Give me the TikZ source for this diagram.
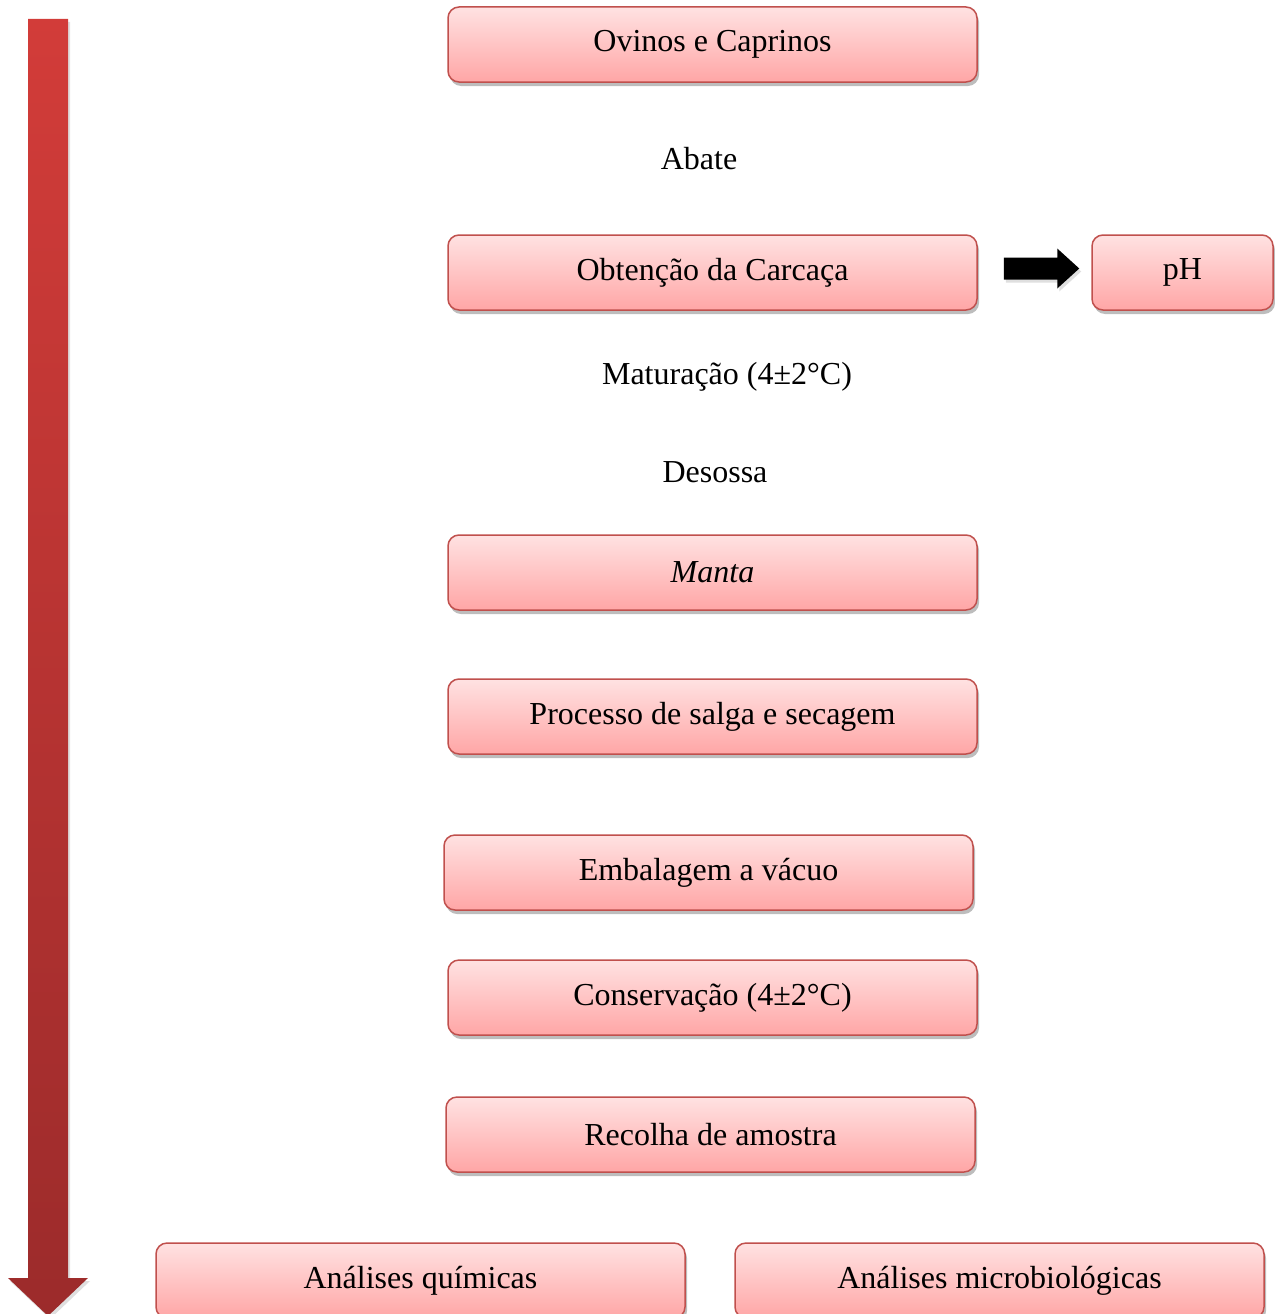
\documentclass[tikz,border=0pt]{standalone}
\usepackage{fontspec}
\setmainfont{Liberation Serif}
\usetikzlibrary{shadows,calc}
\definecolor{boxtop}{HTML}{FFE2E2}
\definecolor{boxbot}{HTML}{FFA6A6}
\definecolor{boxline}{HTML}{C0504D}
\definecolor{bigtop}{HTML}{D23C39}
\definecolor{bigbot}{HTML}{9C2B2B}
\tikzset{
  stepbox/.style={draw=boxline, line width=1.5pt, rounded corners=11pt,
    top color=boxtop, bottom color=boxbot, minimum width=529pt, minimum height=75pt,
    inner sep=0pt, font=\fontsize{32}{36}\selectfont,
    drop shadow={shadow xshift=2pt, shadow yshift=-4pt, opacity=0.4, fill=black!65}},
  label/.style={font=\fontsize{32}{36}\selectfont, inner sep=0pt},
}
\begin{document}
\begin{tikzpicture}[x=1pt,y=-1pt]
\useasboundingbox (0,0) rectangle (1274,1314);
% big gradient arrow
\shade[top color=bigtop, bottom color=bigbot, drop shadow={shadow xshift=2pt, shadow yshift=-3pt, opacity=0.25}]
  (28,19) -- (68,19) -- (68,1278) -- (88,1278) -- (48,1316) -- (8,1278) -- (28,1278) -- cycle;
\node[stepbox] (ovinos) at (712.5,44.5) {Ovinos e Caprinos};
\node[label] (abate) at (699,159) {Abate};
\node[stepbox] (carc) at (712.5,272.5) {Obtenção da Carcaça};
\node[stepbox, minimum width=181pt] (ph) at (1182.5,272.5) {pH};
% black block arrow from carcaça to pH
\coordinate (as) at ($(carc.east)+(26,-4)$);
\coordinate (ae) at ($(ph.west)+(-12,-4)$);
\fill[black, drop shadow={shadow xshift=2pt, shadow yshift=-3pt, opacity=0.25}]
  ($(as)+(0,-11)$) -- ($(ae)+(-22,-11)$) -- ($(ae)+(-22,-20)$) -- (ae)
  -- ($(ae)+(-22,20)$) -- ($(ae)+(-22,11)$) -- ($(as)+(0,11)$) -- cycle;
\node[label] (matur) at (727,376.5) {Maturação (4±2°C)};
\node[label] (desossa) at (715,472) {Desossa};
\node[stepbox] (manta) at (712.5,572.5) {\itshape Manta};
\node[stepbox] (salga) at (712.5,716.5) {Processo de salga e secagem};
\node[stepbox] (emb) at (708.5,872.5) {Embalagem a vácuo};
\node[stepbox] (cons) at (712.5,997.5) {Conservação (4±2°C)};
\node[stepbox] (recolha) at (710.5,1134.5) {Recolha de amostra};
\node[stepbox] (quim) at (420.5,1280.5) {Análises químicas};
\node[stepbox] (micro) at (999.5,1280.5) {Análises microbiológicas};
\end{tikzpicture}
\end{document}
